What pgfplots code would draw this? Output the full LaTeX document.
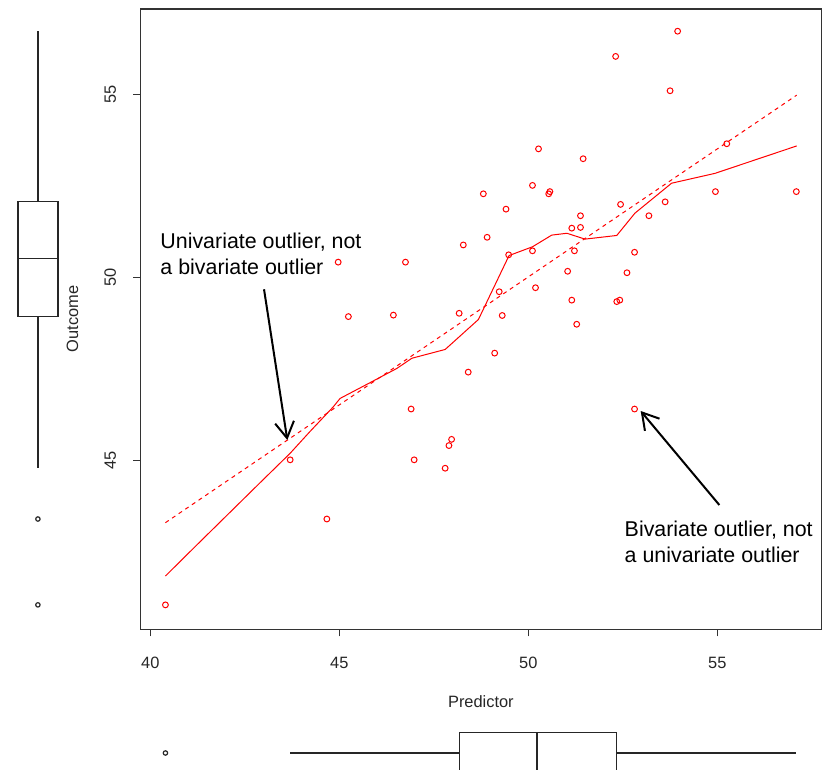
\documentclass[border=0pt]{standalone}
\usepackage{pgfplots}
\pgfplotsset{compat=1.18}
\usepackage{pgfplotstable}
\usepgfplotslibrary{statistics}
\usetikzlibrary{arrows.meta}
\usepackage{fontspec}
\setmainfont{Liberation Sans}

\pgfplotstableread{
x y
48.28 50.89
44.97 50.42
46.75 50.42
45.24 48.93
46.43 48.97
48.17 49.02
53.95 56.74
52.31 56.05
53.75 55.11
50.27 53.52
51.45 53.25
55.25 53.66
50.11 52.52
50.57 52.35
50.54 52.29
48.81 52.29
49.41 51.87
54.95 52.35
57.09 52.35
53.62 52.07
52.44 52.00
53.19 51.69
51.38 51.69
51.15 51.35
51.38 51.37
48.91 51.10
49.48 50.62
50.11 50.73
51.22 50.73
52.81 50.69
51.04 50.17
52.61 50.13
50.19 49.72
49.23 49.61
51.15 49.38
52.34 49.34
52.42 49.38
49.31 48.96
51.28 48.72
49.11 47.93
48.41 47.41
52.81 46.40
46.90 46.40
47.97 45.57
47.90 45.40
46.98 45.01
47.80 44.78
43.70 45.01
44.67 43.39
40.40 41.04
}\pointdata

\begin{document}
\begin{tikzpicture}
\path[use as bounding box] (0pt,0pt) rectangle (412.5pt,385pt);
% main scatter
\begin{axis}[
  at={(70.15pt,70.35pt)}, anchor=south west,
  scale only axis, width=340.6pt, height=310.15pt,
  xmin=39.735, xmax=57.756, ymin=40.372, ymax=57.348,
  axis line style={black!80, line width=0.6pt},
  tick pos=left, tick align=outside, major tick length=3.5pt,
  tick style={black!80, line width=0.6pt},
  xtick={40,45,50,55}, ytick={45,50,55},
  /pgf/number format/assume math mode=true,
  tick label style={font=\fontsize{8.2}{10}\selectfont, text=black!85},
  label style={font=\fontsize{8.2}{10}\selectfont, text=black!85},
  xticklabel style={anchor=center, yshift=-13.2pt},
  yticklabel style={xshift=-11.5pt, anchor=center, rotate=90},
  xlabel={Predictor}, ylabel={Outcome},
  xlabel style={at={(axis description cs:0.5,-0.1172)}, anchor=center},
  ylabel style={at={(axis description cs:-0.0994,0.5)}, anchor=center},
]
\addplot[only marks, mark=o, mark size=1.45pt, red, line width=0.5pt] table[x=x,y=y] {\pointdata};
\addplot[red, line width=0.5pt, dash pattern=on 2pt off 2pt] coordinates {(40.40,43.29) (57.10,54.99)};
\addplot[red, line width=0.5pt] coordinates {
(40.40,41.83) (41.23,42.68) (42.90,44.38) (43.70,45.19) (44.22,45.78) (44.84,46.46)
(45.02,46.69) (45.81,47.12) (46.52,47.51) (46.92,47.79) (47.80,48.03) (48.68,48.85)
(49.49,50.60) (50.11,50.84) (50.62,51.16) (51.02,51.21) (51.50,51.05) (52.34,51.15)
(52.82,51.76) (53.79,52.58) (54.94,52.85) (57.10,53.60)};
\node[anchor=west, align=left, inner sep=0pt, font=\fontsize{10.7}{13}\selectfont] at (axis cs:40.257,50.638) {Univariate outlier, not\\a bivariate outlier};
\node[anchor=west, align=left, inner sep=0pt, font=\fontsize{10.7}{13}\selectfont] at (axis cs:52.54,42.77) {Bivariate outlier, not\\a univariate outlier};
\draw[-{Straight Barb[length=8pt,width=9.5pt]}, line width=1pt] (axis cs:43.008,49.677) -- (axis cs:43.624,45.553);
\draw[-{Straight Barb[length=8pt,width=9.5pt]}, line width=1pt] (axis cs:55.053,43.774) -- (axis cs:52.973,46.346);
\end{axis}
% left boxplot (Outcome), drawn from its five numbers
\begin{axis}[
  at={(8.95pt,70.35pt)}, anchor=south west,
  scale only axis, width=20pt, height=310.15pt,
  xmin=-1, xmax=1, ymin=40.372, ymax=57.348, hide axis, clip=false,
]
\addplot[black!85, line width=0.6pt, line cap=rect, line join=miter] coordinates {(-1,48.93) (1,48.93) (1,52.07) (-1,52.07) (-1,48.93)};
\addplot[black!85, line width=0.6pt] coordinates {(-1,50.52) (1,50.52)};
\addplot[black!85, line width=0.6pt] coordinates {(0,52.07) (0,56.74)};
\addplot[black!85, line width=0.6pt] coordinates {(0,48.93) (0,44.78)};
\addplot[only marks, black!85, line width=0.6pt, mark=o, mark size=1.1pt] coordinates {(0,43.39) (0,41.04)};
\end{axis}
% bottom boxplot (Predictor)
\begin{axis}[
  at={(70.15pt,-1.65pt)}, anchor=south west,
  scale only axis, width=340.6pt, height=20.3pt,
  xmin=39.735, xmax=57.756, ymin=-1, ymax=1, hide axis, clip=false,
]
\addplot[black!85, line width=0.6pt, mark=o, mark size=1.1pt,
  boxplot prepared={lower whisker=43.70, lower quartile=48.17, median=50.23,
    upper quartile=52.34, upper whisker=57.09, draw position=0, box extend=2, whisker extend=0,
    draw direction=x}]
  coordinates {(40.40,40.40)};
\end{axis}
\end{tikzpicture}
\end{document}
